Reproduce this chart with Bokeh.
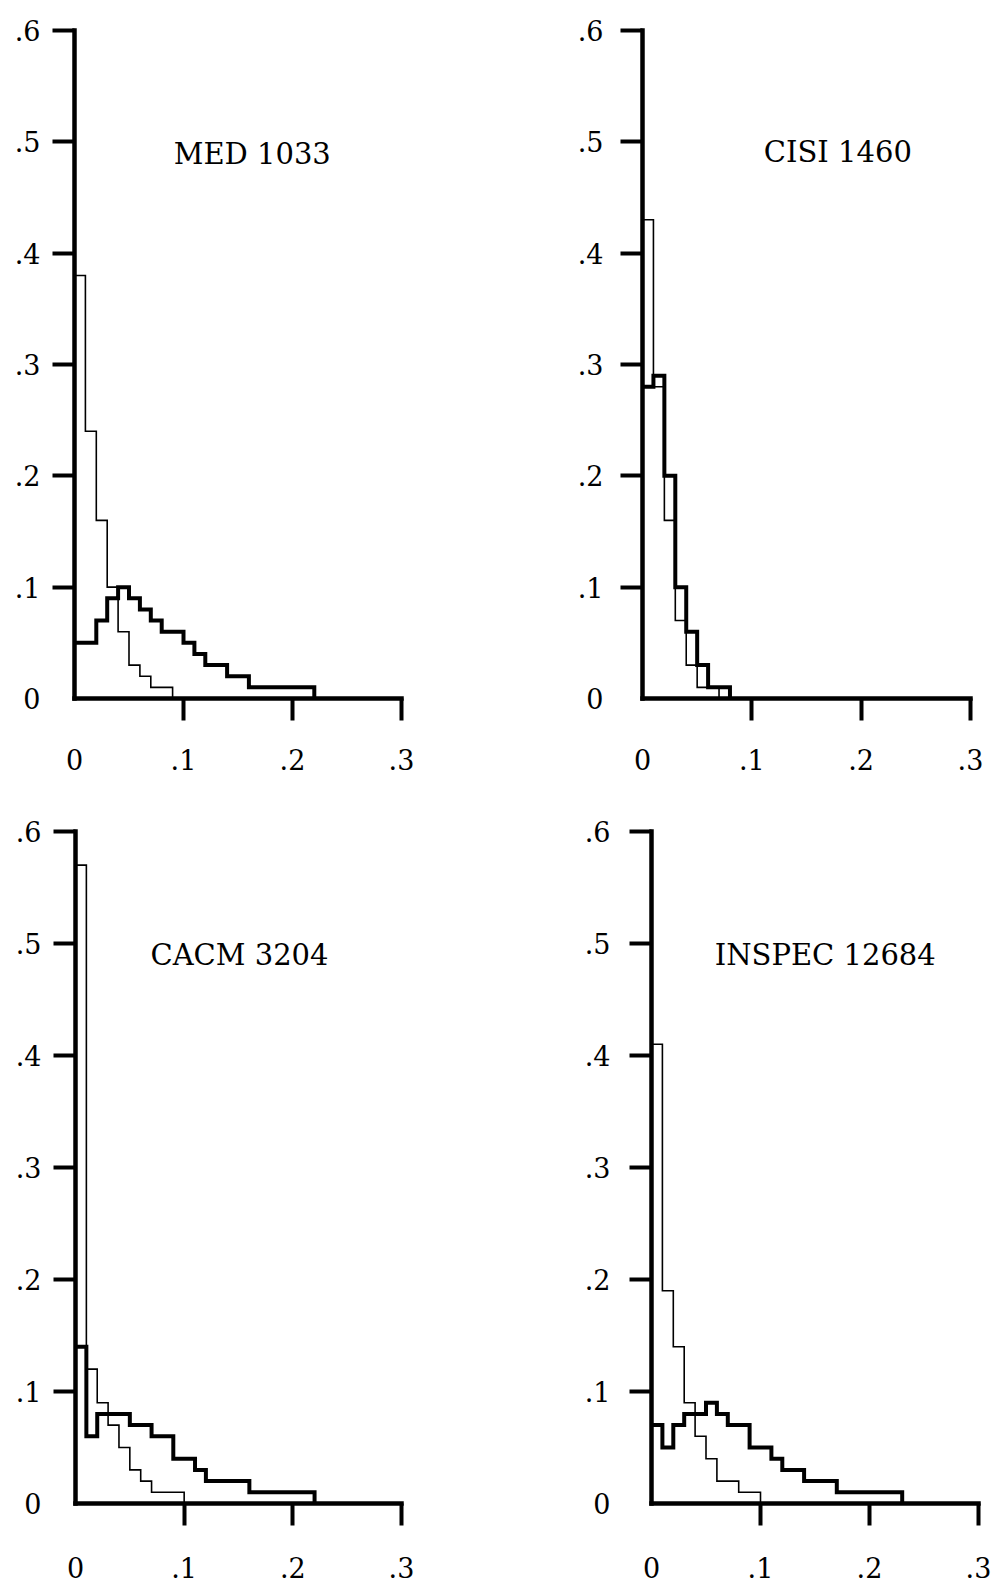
from bokeh.plotting import figure
from bokeh.models import Range1d, FixedTicker, Label
from bokeh.layouts import column, row
from bokeh.embed import file_html
from bokeh.resources import INLINE

# ---- data (fraction of pairs per similarity bin, bin width 0.01) ----
bin_width = 0.01

med_thin = [0.38, 0.24, 0.16, 0.10, 0.06, 0.03, 0.02, 0.01, 0.01]
med_thick = [0.05, 0.05, 0.07, 0.09, 0.10, 0.09, 0.08, 0.07, 0.06, 0.06, 0.05,
             0.04, 0.03, 0.03, 0.02, 0.02, 0.01, 0.01, 0.01, 0.01, 0.01, 0.01]

cisi_thin = [0.43, 0.28, 0.16, 0.07, 0.03, 0.01, 0.01]
cisi_thick = [0.28, 0.29, 0.20, 0.10, 0.06, 0.03, 0.01, 0.01]

cacm_thin = [0.57, 0.12, 0.09, 0.07, 0.05, 0.03, 0.02, 0.01, 0.01, 0.01]
cacm_thick = [0.14, 0.06, 0.08, 0.08, 0.08, 0.07, 0.07, 0.06, 0.06, 0.04, 0.04,
              0.03, 0.02, 0.02, 0.02, 0.02, 0.01, 0.01, 0.01, 0.01, 0.01, 0.01]

inspec_thin = [0.41, 0.19, 0.14, 0.09, 0.06, 0.04, 0.02, 0.02, 0.01, 0.01]
inspec_thick = [0.07, 0.05, 0.07, 0.08, 0.08, 0.09, 0.08, 0.07, 0.07, 0.05, 0.05,
                0.04, 0.03, 0.03, 0.02, 0.02, 0.02, 0.01, 0.01, 0.01, 0.01, 0.01, 0.01]

titles = ["MED 1033", "CISI 1460", "CACM 3204", "INSPEC 12684"]

x_ticks = [0.0, 0.1, 0.2, 0.3]
x_tick_labels = ["0", ".1", ".2", ".3"]
y_ticks = [0.0, 0.1, 0.2, 0.3, 0.4, 0.5, 0.6]
y_tick_labels = ["0", ".1", ".2", ".3", ".4", ".5", ".6"]

FONT = "DejaVu Serif"


def step_xy(vals):
    xs = [i * bin_width for i in range(len(vals) + 1)]
    ys = list(vals) + [0.0]
    return xs, ys


def panel(thin, thick, title, tx, ty, width, height, bl, br, bt, bb, ystand, xstand):
    p = figure(width=width, height=height,
               x_range=Range1d(0, 0.3), y_range=Range1d(0, 0.6),
               output_backend="svg", toolbar_location=None,
               min_border_left=bl, min_border_right=br,
               min_border_top=bt, min_border_bottom=bb,
               background_fill_color="white", border_fill_color="white")
    p.grid.visible = False
    p.outline_line_color = None

    for ax, ticks, labels, stand in ((p.xaxis[0], x_ticks, x_tick_labels, xstand),
                                     (p.yaxis[0], y_ticks, y_tick_labels, ystand)):
        ax.ticker = FixedTicker(ticks=ticks, minor_ticks=[t for t in ticks if t > 0])
        ax.major_label_overrides = dict(zip(ticks, labels))
        ax.axis_line_width = 4.5
        ax.axis_line_color = "black"
        ax.axis_line_cap = "square"
        ax.major_tick_out = 0
        ax.major_tick_in = 0
        ax.minor_tick_out = 22
        ax.minor_tick_in = 0
        ax.minor_tick_line_width = 4
        ax.minor_tick_line_color = "black"
        ax.major_label_standoff = stand
        ax.major_label_text_font = FONT
        ax.major_label_text_font_size = "27px"
        ax.major_label_text_color = "black"

    xs, ys = step_xy(thick)
    p.step(xs, ys, mode="after", line_width=4, line_color="black", line_join="miter")
    xs, ys = step_xy(thin)
    p.step(xs, ys, mode="after", line_width=1.6, line_color="black", line_join="miter")

    p.add_layout(Label(x=tx, y=ty, text=title, text_font=FONT, text_font_size="29px",
                       text_baseline="middle", text_align="left", text_color="black"))
    return p


# figure sizes / borders chosen so that the plot frames sit where the reference's do
p1 = panel(med_thin, med_thick, titles[0], 0.091, 0.489,
           480, 800, 74, 79, 30, 102, 12, 28)
p2 = panel(cisi_thin, cisi_thick, titles[1], 0.111, 0.491,
           512, 800, 162, 22, 30, 102, 17, 28)
p3 = panel(cacm_thin, cacm_thick, titles[2], 0.069, 0.490,
           480, 782, 75, 79, 31, 79, 12, 31)
p4 = panel(inspec_thin, inspec_thick, titles[3], 0.058, 0.490,
           512, 782, 171, 14, 31, 79, 19, 31)

layout = column(row(p1, p2), row(p3, p4))

open("out.html", "w").write(file_html(layout, INLINE))
